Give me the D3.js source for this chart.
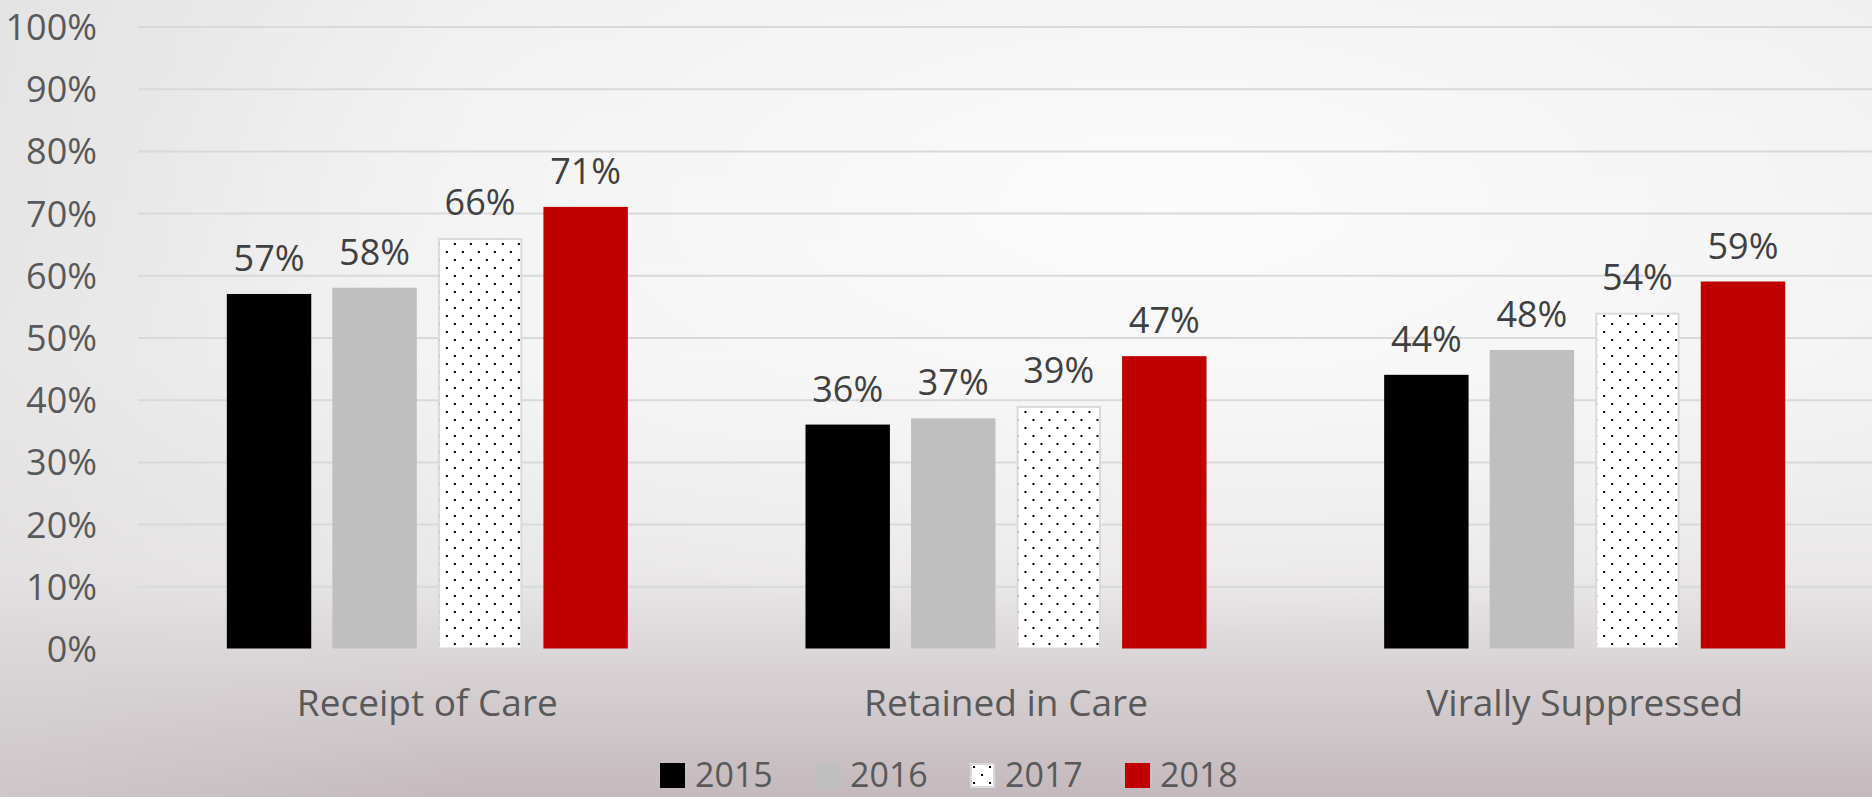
<!DOCTYPE html>
<html>
<head>
<meta charset="utf-8">
<script src="https://cdn.jsdelivr.net/npm/d3@7"></script>
<style>
  html, body { margin: 0; padding: 0; }
  body { width: 1872px; height: 797px; overflow: hidden; }
  svg { display: block; }
</style>
</head>
<body>
<svg id="chart" width="1872" height="797"></svg>
<script>
// Care continuum by year
const categories = ["Receipt of Care", "Retained in Care", "Virally Suppressed"];
const years = ["2015", "2016", "2017", "2018"];
const values2015 = [57, 36, 44];
const values2016 = [58, 37, 48];
const values2017 = [66, 39, 54];
const values2018 = [71, 47, 59];
const yTicks = [0, 10, 20, 30, 40, 50, 60, 70, 80, 90, 100];

const seriesValues = [values2015, values2016, values2017, values2018];
const rows = categories.map((c, i) => ({
  category: c,
  bars: years.map((y, j) => ({ year: y, value: seriesValues[j][i] }))
}));

const W = 1872, H = 797;
const svg = d3.select("#chart");
const defs = svg.append("defs");

// Background: soft grey slide backdrop, warmer toward the bottom
const bgV = defs.append("linearGradient").attr("id", "bgV")
  .attr("x1", 0).attr("y1", 0).attr("x2", 0).attr("y2", 1);
[["0%", "#eeeeee"], ["45%", "#f3f2f2"], ["72%", "#eae8e9"], ["84%", "#d8d2d4"], ["100%", "#c4b9bd"]]
  .forEach(([o, c]) => bgV.append("stop").attr("offset", o).attr("stop-color", c));

const bgGlow = defs.append("radialGradient").attr("id", "bgGlow")
  .attr("cx", 0.62).attr("cy", 0.25).attr("r", 0.55);
bgGlow.append("stop").attr("offset", "0%").attr("stop-color", "#ffffff").attr("stop-opacity", 0.75);
bgGlow.append("stop").attr("offset", "100%").attr("stop-color", "#ffffff").attr("stop-opacity", 0);

const bgLeft = defs.append("linearGradient").attr("id", "bgLeft")
  .attr("x1", 0).attr("y1", 0).attr("x2", 1).attr("y2", 0);
bgLeft.append("stop").attr("offset", "0%").attr("stop-color", "#d9d7d8").attr("stop-opacity", 0.45);
bgLeft.append("stop").attr("offset", "25%").attr("stop-color", "#d9d7d8").attr("stop-opacity", 0);

svg.append("rect").attr("width", W).attr("height", H).attr("fill", "url(#bgV)");
svg.append("rect").attr("width", W).attr("height", H).attr("fill", "url(#bgLeft)");
svg.append("rect").attr("width", W).attr("height", H).attr("fill", "url(#bgGlow)");

// Dotted fill for the 2017 series
const pat = defs.append("pattern").attr("id", "dots")
  .attr("patternUnits", "userSpaceOnUse").attr("width", 16).attr("height", 16);
pat.append("rect").attr("width", 16).attr("height", 16).attr("fill", "#ffffff");
pat.append("rect").attr("x", 3).attr("y", 3).attr("width", 2).attr("height", 2).attr("fill", "#000000");
pat.append("rect").attr("x", 11).attr("y", 11).attr("width", 2).attr("height", 2).attr("fill", "#000000");

const fills = { "2015": "#000000", "2016": "#bfbfbf", "2017": "url(#dots)", "2018": "#c00000" };
const strokes = { "2015": "none", "2016": "none", "2017": "#d9d9d9", "2018": "none" };

// Scales
const plotLeft = 138, plotRight = 1874, plotTop = 26.5, plotBottom = 648.5;
const y = d3.scaleLinear().domain([0, 100]).range([plotBottom, plotTop]);
const x0 = d3.scaleBand().domain(categories).range([plotLeft, plotRight])
  .paddingInner(0.307).paddingOuter(0.1535);
const x1 = d3.scaleBand().domain(years).range([0, x0.bandwidth()]).paddingInner(0.2);

// Gridlines
const yAxisGrid = d3.axisLeft(y).tickValues(yTicks).tickSize(-(W - plotLeft)).tickFormat("");
const grid = svg.append("g").attr("transform", `translate(${plotLeft},0)`).call(yAxisGrid);
grid.select(".domain").remove();
grid.selectAll(".tick line").attr("stroke", "#d9d9d9").attr("stroke-width", 2);

// Y tick labels
const yAxis = d3.axisLeft(y).tickValues(yTicks).tickSize(0).tickPadding(0).tickFormat(d => d + "%");
const ya = svg.append("g").attr("transform", "translate(97,0)").call(yAxis);
ya.select(".domain").remove();
ya.selectAll("text")
  .attr("font-family", "'Open Sans', sans-serif")
  .attr("font-size", 36)
  .attr("fill", "#595959")
  .attr("dy", "0.36em");

// Bars
const groups = svg.append("g").selectAll("g").data(rows).join("g")
  .attr("transform", d => `translate(${x0(d.category)},0)`);

groups.selectAll("rect").data(d => d.bars).join("rect")
  .attr("x", d => x1(d.year) + (d.year === "2017" ? 1 : 0))
  .attr("y", d => y(d.value) + (d.year === "2017" ? 1 : 0))
  .attr("width", d => x1.bandwidth() - (d.year === "2017" ? 2 : 0))
  .attr("height", d => y(0) - y(d.value) - (d.year === "2017" ? 1 : 0))
  .attr("fill", d => fills[d.year])
  .attr("stroke", d => strokes[d.year])
  .attr("stroke-width", 2);

// Value labels
groups.selectAll("text").data(d => d.bars).join("text")
  .attr("x", d => x1(d.year) + x1.bandwidth() / 2)
  .attr("y", d => y(d.value) - 23)
  .attr("text-anchor", "middle")
  .attr("font-family", "'Open Sans', sans-serif")
  .attr("font-size", 36)
  .attr("fill", "#404040")
  .text(d => d.value + "%");

// Category axis labels
const xAxis = d3.axisBottom(x0).tickSize(0).tickPadding(0);
const xa = svg.append("g").attr("transform", "translate(0,716)").call(xAxis);
xa.select(".domain").remove();
xa.selectAll("text")
  .attr("font-family", "'Open Sans', sans-serif")
  .attr("font-size", 37)
  .attr("fill", "#595959")
  .attr("dy", 0);

// Legend
const legendX = d3.scalePoint().domain(years).range([660, 1125]);
const lg = svg.append("g").selectAll("g").data(years).join("g")
  .attr("transform", d => `translate(${legendX(d)},763)`);
lg.append("rect")
  .attr("x", d => d === "2017" ? 1 : 0).attr("y", d => d === "2017" ? 1 : 0)
  .attr("width", d => d === "2017" ? 23 : 25).attr("height", d => d === "2017" ? 23 : 25)
  .attr("fill", d => fills[d])
  .attr("stroke", d => strokes[d]).attr("stroke-width", 2);
lg.append("text")
  .attr("x", 35).attr("y", 24)
  .attr("font-family", "'Open Sans', sans-serif")
  .attr("font-size", 34)
  .attr("fill", "#595959")
  .text(d => d);
</script>
</body>
</html>
